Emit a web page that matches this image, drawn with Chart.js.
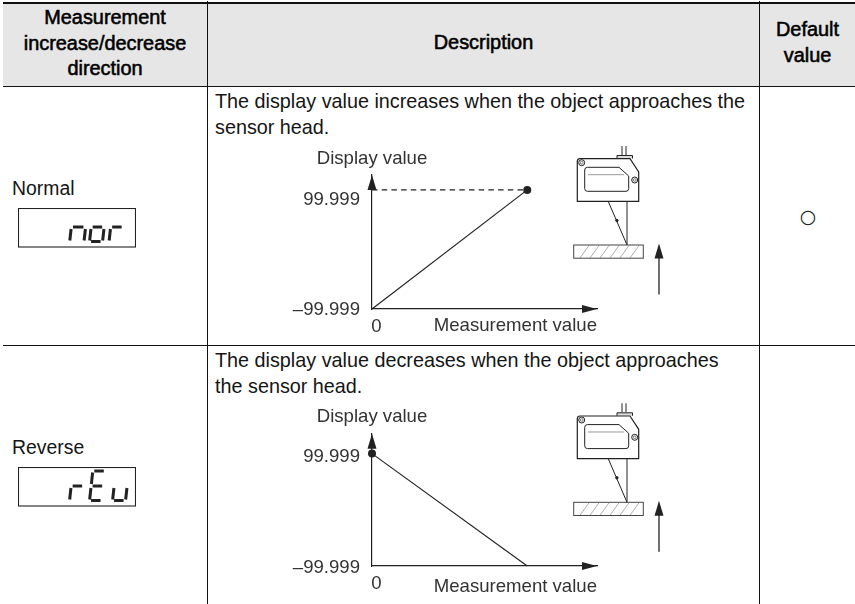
<!DOCTYPE html>
<html>
<head>
<meta charset="utf-8">
<title>Measurement increase/decrease direction</title>
<script src="https://cdn.jsdelivr.net/npm/chart.js@4"></script>
<style>
  html, body { margin: 0; padding: 0; background: #fff; }
  body { position: relative; width: 855px; height: 604px; overflow: hidden;
    font-family: "Liberation Sans", Arial, sans-serif; font-size: 19.8px; color: #151515; }
  .t { position: absolute; white-space: nowrap; line-height: 26px; }
  .head { font-size: 19.9px; color: #000; -webkit-text-stroke: 0.55px #000; text-align: center; line-height: 25.5px; }
  .hl, .vl { position: absolute; background: #111; }
  canvas, svg { position: absolute; }
  #headBg { position: absolute; left: 3px; top: 3px; width: 852px; height: 83px; background: #e6e6e6; }
</style>
</head>
<body>
<div id="headBg"></div>
<div class="hl" style="left:3px;top:2px;width:852px;height:2px"></div>
<div class="hl" style="left:3px;top:85.6px;width:852px;height:1.3px"></div>
<div class="hl" style="left:3px;top:344.6px;width:852px;height:1.3px"></div>
<div class="vl" style="left:206.8px;top:1px;width:1.3px;height:603px"></div>
<div class="vl" style="left:758.8px;top:1px;width:1.3px;height:603px"></div>

<div class="t head" style="left:3px;width:204px;top:5px">Measurement<br>increase/decrease<br>direction</div>
<div class="t head" style="left:208px;width:551px;top:30px">Description</div>
<div class="t head" style="left:760px;width:95px;top:17px">Default<br>value</div>

<div class="t" style="left:12px;top:175px;font-size:19.4px">Normal</div>
<div class="t" style="left:12px;top:434px;font-size:19.4px">Reverse</div>
<div class="t" style="left:215px;top:88px">The display value increases when the object approaches the<br>sensor head.</div>
<div class="t" style="left:215px;top:347px">The display value decreases when the object approaches<br>the sensor head.</div>
<div class="t" style="left:808px;top:202.5px;transform:translateX(-50%);font-family:'DejaVu Sans';font-size:19px">○</div>

<svg id="lcdNormal" style="left:18px;top:207.5px" width="118" height="40"><title>nor</title></svg>
<svg id="lcdReverse" style="left:18px;top:466.5px" width="118" height="40"><title>rEu</title></svg>

<svg width="855" height="604" style="left:0;top:0" fill="none" stroke="#222" stroke-width="1">
  <defs>
    <g id="sensor">
      <path d="M622 146V155M626 146V155" stroke-width="1"/>
      <path d="M617 158.5V155.5H632.5V158.5" fill="#ddd"/>
      <path d="M580 158.7H630L638.7 172V201.3H577.3V161.5Q577.3 158.7 580 158.7Z" stroke-width="1.2"/>
      <path d="M587.5 167.3H619L628.7 176V188.5Q628.7 191.3 626 191.3H587.5Q584.7 191.3 584.7 188.5V170Q584.7 167.3 587.5 167.3Z" stroke-width="1"/>
      <path d="M588 174.7H624" stroke="#999" stroke-width="1"/>
      <circle cx="581.7" cy="162.7" r="3"/><circle cx="581.7" cy="162.7" r="1.4" stroke="#777"/>
      <circle cx="634.7" cy="180" r="3"/><circle cx="634.7" cy="180" r="1.4" stroke="#777"/>
      <path d="M608.3 201.5L627 245M627 201.5V245" stroke-width="1"/>
      <circle cx="616.9" cy="220.5" r="1.2" fill="#222"/>
      <path d="M580 258L589 245.5M590 258L599 245.5M600 258L609 245.5M610 258L619 245.5M620 258L629 245.5M630 258L639 245.5" stroke="#999" stroke-width="0.8"/>
      <rect x="573.7" y="245" width="69.6" height="13.2" stroke="#444" stroke-width="1"/>
      <path d="M659 294.5V256" stroke-width="1.3"/>
      <path d="M659 243.5L663.5 258.5H654.5Z" fill="#222" stroke="none"/>
    </g>
  </defs>
  <use href="#sensor"/>
  <use href="#sensor" y="257.3"/>
</svg>

<canvas id="chartNormal" width="456" height="192" style="left:145px;top:145px"></canvas>
<canvas id="chartReverse" width="456" height="194" style="left:145px;top:404px"></canvas>

<script>
const measurementValues = [0, 100];
const normalDisplay = [-99.999, 99.999];
const reverseDisplay = [99.999, -99.999];
const guideValues = [0, 100];
const guideDisplay = [99.999, 99.999];
const yTickValues = [-99.999, 99.999];
const yTickLabels = ['–99.999', '99.999'];
const xTickValues = [0];
const xTickLabels = ['0'];
const xAxisTitle = 'Measurement value';
const yAxisTitle = 'Display value';

const labelColor = '#333';
const lineColor = '#222';
const fontFamily = '"Liberation Sans", Arial, sans-serif';
const labelSize = 18.6;

// arrow heads on the ends of both axes
const axisArrows = {
  id: 'axisArrows',
  afterDatasetsDraw(chart) {
    const { ctx, chartArea } = chart;
    ctx.save();
    ctx.fillStyle = lineColor;
    ctx.beginPath();
    ctx.moveTo(chartArea.left, chartArea.top);
    ctx.lineTo(chartArea.left + 4.5, chartArea.top + 15);
    ctx.lineTo(chartArea.left - 4.5, chartArea.top + 15);
    ctx.closePath();
    ctx.fill();
    ctx.beginPath();
    ctx.moveTo(chartArea.right, chartArea.bottom);
    ctx.lineTo(chartArea.right - 15, chartArea.bottom - 4);
    ctx.lineTo(chartArea.right - 15, chartArea.bottom + 4);
    ctx.closePath();
    ctx.fill();
    ctx.restore();
  }
};

function toPoints(xs, ys) {
  return xs.map((x, i) => ({ x: x, y: ys[i] }));
}

function makeChart(id, datasets, opt) {
  return new Chart(document.getElementById(id), {
    type: 'line',
    data: { datasets: datasets },
    plugins: [axisArrows],
    options: {
      responsive: false,
      animation: false,
      layout: { padding: { right: 2 } },
      plugins: {
        legend: { display: false },
        tooltip: { enabled: false },
        title: {
          display: true,
          text: yAxisTitle,
          color: labelColor,
          font: { family: fontFamily, size: labelSize, weight: 'normal', lineHeight: 1.2 },
          padding: opt.titlePadding
        }
      },
      scales: {
        x: {
          type: 'linear',
          min: 0,
          max: opt.xMax,
          grid: { display: false, drawTicks: false },
          border: { color: lineColor, width: 1.2 },
          afterBuildTicks: (s) => { s.ticks = xTickValues.map((v) => ({ value: v })); },
          afterFit: (s) => { s.height = opt.xBand; },
          ticks: {
            autoSkip: false,
            maxRotation: 0,
            labelOffset: 4.5,
            padding: opt.xTickPad,
            color: labelColor,
            font: { family: fontFamily, size: labelSize },
            callback: (v) => xTickLabels[xTickValues.indexOf(v)]
          },
          title: {
            display: true,
            text: xAxisTitle,
            align: 'end',
            color: labelColor,
            font: { family: fontFamily, size: labelSize, weight: 'normal', lineHeight: 1.2 },
            padding: opt.xTitlePad
          }
        },
        y: {
          type: 'linear',
          min: -99.999,
          max: opt.yMax,
          grid: { display: false, drawTicks: false },
          border: { color: lineColor, width: 1.2 },
          afterBuildTicks: (s) => { s.ticks = yTickValues.map((v) => ({ value: v })); },
          afterFit: (s) => { s.width = 227; },
          ticks: {
            autoSkip: false,
            padding: 12,
            labelOffset: opt.yLabelOffset,
            color: labelColor,
            font: { family: fontFamily, size: labelSize, lineHeight: opt.topLabelDrop * 2 + 'px' },
            // the upper label sits a little under its tick in the original
            callback: (v) => {
              const label = yTickLabels[yTickValues.indexOf(v)];
              return v > 0 ? ['', label] : label;
            }
          }
        }
      }
    }
  });
}

function lineSet(points, dash, radius) {
  return {
    data: points,
    borderColor: lineColor,
    backgroundColor: lineColor,
    borderWidth: 1.2,
    borderDash: dash,
    pointRadius: radius,
    pointBorderWidth: 0,
    tension: 0,
    clip: false
  };
}

makeChart('chartNormal', [
  lineSet(toPoints(guideValues, guideDisplay), [5.5, 4.2], 0),
  lineSet(toPoints(measurementValues, normalDisplay), [], (c) => (c.parsed.y > 0 ? 4 : 0))
], {
  xMax: 144.9, yMax: 125, xBand: 28, xTickPad: 7, xTitlePad: { top: 0, bottom: 0 },
  titlePadding: { top: 2, bottom: 5.4 }, yLabelOffset: 1, topLabelDrop: 9
});

makeChart('chartReverse', [
  lineSet(toPoints(measurementValues, reverseDisplay), [], (c) => (c.parsed.y > 0 ? 4 : 0))
], {
  xMax: 144.9, yMax: 135.4, xBand: 32, xTickPad: 7, xTitlePad: { top: 0, bottom: 0 },
  titlePadding: { top: 2, bottom: 5.4 }, yLabelOffset: 2, topLabelDrop: 1
});

// seven segment read-outs in the two small boxes
const segLines = {
  a: [3, 4, 12.5, 4], b: [14.5, 5.5, 14.5, 17], c: [14.5, 21, 14.5, 32.5], d: [3, 33.5, 12.5, 33.5],
  e: [1.5, 21, 1.5, 32.5], f: [1.5, 5.5, 1.5, 17], g: [3, 19, 12.5, 19]
};
const lcdNormalGlyphs = [{ x: 50, w: 1.1, segs: 'ceg' }, { x: 70, w: 1, segs: 'cdeg' }, { x: 89.5, w: 1, segs: 'eg' }];
const lcdReverseGlyphs = [{ x: 50, w: 1, segs: 'eg' }, { x: 70, w: 1, segs: 'adefg' }, { x: 93, w: 1, segs: 'cde' }];

function drawLcd(id, glyphs) {
  const svg = document.getElementById(id);
  const ns = 'http://www.w3.org/2000/svg';
  const box = document.createElementNS(ns, 'rect');
  box.setAttribute('x', 0.5); box.setAttribute('y', 0.5);
  box.setAttribute('width', 117); box.setAttribute('height', 38.5);
  box.setAttribute('fill', 'none'); box.setAttribute('stroke', '#222'); box.setAttribute('stroke-width', 1.1);
  svg.appendChild(box);
  glyphs.forEach((g) => {
    for (const s of g.segs) {
      const c = segLines[s];
      const line = document.createElementNS(ns, 'line');
      line.setAttribute('x1', g.x + c[0] * g.w + (34 - c[1]) * 0.11);
      line.setAttribute('y1', c[1]);
      line.setAttribute('x2', g.x + c[2] * g.w + (34 - c[3]) * 0.11);
      line.setAttribute('y2', c[3]);
      line.setAttribute('stroke', '#222');
      line.setAttribute('stroke-width', 3);
      svg.appendChild(line);
    }
  });
}
drawLcd('lcdNormal', lcdNormalGlyphs);
drawLcd('lcdReverse', lcdReverseGlyphs);
</script>
</body>
</html>
